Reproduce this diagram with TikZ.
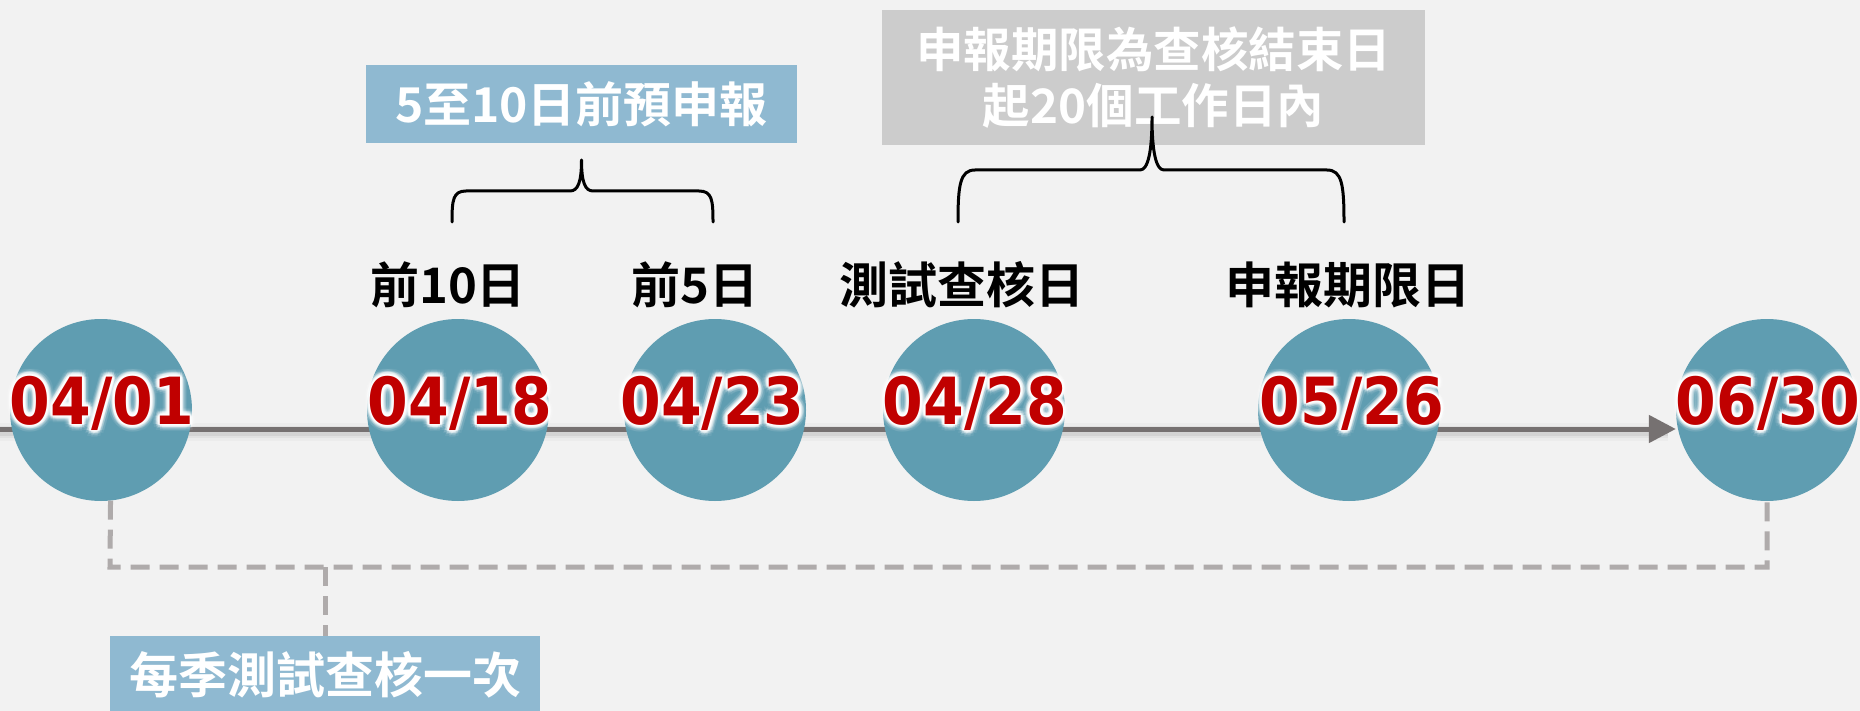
\documentclass[tikz,border=0pt]{standalone}
\usepackage{fontspec}
\newfontfamily\cjk{Noto Sans CJK TC Bold}
\newfontfamily\datef{DejaVu Sans Condensed Bold}
\usetikzlibrary{arrows.meta,calc}
\pgfdeclarelayer{paper}
\pgfdeclarelayer{back}
\pgfsetlayers{paper,back,main}
\definecolor{bg}{RGB}{242,242,242}
\definecolor{circ}{RGB}{95,157,177}
\definecolor{datered}{RGB}{192,0,0}
\definecolor{lightblue}{RGB}{143,185,209}
\definecolor{boxgray}{RGB}{204,204,204}
\definecolor{axiscol}{RGB}{118,113,113}
\definecolor{dashgray}{RGB}{175,171,171}
\newcommand\glowdate[3]{%
  \foreach \rr/\oo in {7/0.07,5/0.15,3.5/0.28,2/0.5}{%
    \foreach \aa in {0,30,...,330}{%
      \node[glowtxt, opacity=\oo] at ($(#2,424)+(\aa:\rr)$) {#3};
    }%
  }%
  \node[datetxt] (#1) at (#2,424) {#3};
}
\begin{document}
\begin{tikzpicture}[x=1pt,y=-1pt,
  dot/.style={circle, fill=circ, minimum size=182pt, inner sep=0pt},
  datetxt/.style={font=\datef\fontsize{65}{65}\selectfont, text=datered, anchor=base, inner sep=0pt},
  glowtxt/.style={font=\datef\fontsize{65}{65}\selectfont, text=white, anchor=base, inner sep=0pt},
  daylabel/.style={font=\cjk\fontsize{49}{49}\selectfont, text=black, anchor=base, inner sep=0pt},
  infobox/.style={fill=lightblue, text=white, inner sep=0pt, font=\cjk\fontsize{48}{48}\selectfont},
  bracket/.style={line width=3pt, black, line cap=round, line join=round},
  dashconn/.style={dashgray, line width=5pt, dash pattern=on 19pt off 10pt},
  axisline/.style={axiscol, line width=5pt, -{Triangle[length=27pt,width=27pt]}},
  axisshadow/.style={black, opacity=#1}
]
\begin{pgfonlayer}{paper}
\fill[bg] (0,0) rectangle (1860,711);
\end{pgfonlayer}
\useasboundingbox (0,0) rectangle (1860,711);

% circles
\node[dot] (c1) at (101,410) {};
\node[dot] (c2) at (458,410) {};
\node[dot] (c3) at (715,410) {};
\node[dot] (c4) at (974,410) {};
\node[dot] (c5) at (1349,410) {};
\node[dot] (c6) at (1767,410) {};

% timeline (behind the circles)
\coordinate (axstart) at (0,429);
\coordinate (shs) at (0,432);
\coordinate (she) at (1668,432);
\begin{pgfonlayer}{back}
\draw[axisshadow=0.025, line width=18pt] (shs) -- (she);
\draw[axisshadow=0.04, line width=12pt] (shs) -- (she);
\draw[axisshadow=0.06, line width=8pt] (shs) -- (she);
\draw[axisline] (axstart) -- (c6.west |- axstart);
\end{pgfonlayer}

% dates
\glowdate{d1}{102}{04/01}
\glowdate{d2}{460}{04/18}
\glowdate{d3}{712.5}{04/23}
\glowdate{d4}{975}{04/28}
\glowdate{d5}{1352}{05/26}
\glowdate{d6}{1768}{06/30}

% day labels
\node[daylabel] (l2) at (448,303) {前10日};
\node[daylabel] (l3) at (695,303) {前5日};
\node[daylabel] (l4) at (962,303) {測試查核日};
\node[daylabel] (l5) at (1348,303) {申報期限日};

% boxes
\node[infobox, minimum width=431pt, minimum height=78pt] (b1) at (581.5,104.5) {5至10日前預申報};
\node[infobox, fill=boxgray, minimum width=543pt, minimum height=135pt, align=center,
      font=\cjk\fontsize{47.5}{56}\selectfont] (b2) at (1153.5,77.5) {申報期限為查核結束日\\起20個工作日內};
\node[infobox, minimum width=430pt, minimum height=78pt, font=\cjk\fontsize{49}{49}\selectfont] (b3) at (325,675) {每季測試查核一次};

% brace 1
\coordinate (br1a) at (452,222);
\coordinate (br1b) at (713,222);
\coordinate (tip1) at (581.5,160);
\draw[bracket] (br1a) .. controls (452,200) and (453,191) .. (466,191) -- (570,191)
  .. controls (578,191) and (581.5,182) .. (tip1)
  .. controls (581.5,182) and (585,191) .. (593,191) -- (699,191)
  .. controls (712,191) and (713,200) .. (br1b);
% brace 2
\coordinate (br2a) at (958,222);
\coordinate (br2b) at (1344,222);
\coordinate (tip2) at (1152,117);
\draw[bracket] (br2a) .. controls (958,185) and (960,170) .. (975,170) -- (1140,170)
  .. controls (1148,170) and (1152,152) .. (tip2)
  .. controls (1152,152) and (1156,170) .. (1164,170) -- (1327,170)
  .. controls (1342,170) and (1344,185) .. (br2b);

% dashed connector
\coordinate (dl) at (110,567);
\coordinate (dr) at (1767,567);
\coordinate (dj) at (325,567);
\draw[dashconn] (c1.-84) -- (dl) -- (dr) -- (c6.south);
\draw[dashconn] (dj) -- (dj |- b3.north);
\end{tikzpicture}
\end{document}
